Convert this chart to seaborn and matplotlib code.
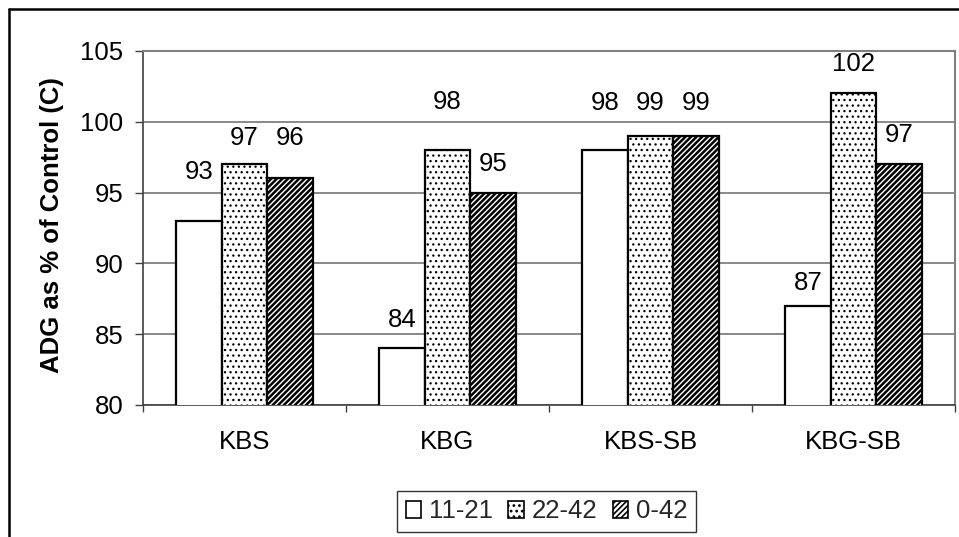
import matplotlib
matplotlib.use("Agg")
import matplotlib.pyplot as plt
from matplotlib.patches import Patch
from matplotlib.lines import Line2D
import numpy as np
import pandas as pd
import seaborn as sns

# ---- data ----
categories = ["KBS", "KBG", "KBS-SB", "KBG-SB"]
periods = ["11-21", "22-42", "0-42"]
adg_11_21 = [93, 84, 98, 87]
adg_22_42 = [97, 98, 99, 102]
adg_0_42 = [96, 95, 99, 97]
y_ticks = [80, 85, 90, 95, 100, 105]
y_label = "ADG as % of Control (C)"

# ---- layout (label offsets above bar tops, data units) ----
label_offsets = {
    "11-21": [3.45, 2.0, 3.3, 1.6],
    "22-42": [1.85, 3.4, 2.3, 2.1],
    "0-42": [2.85, 2.0, 2.3, 2.05],
}
hatches = {"11-21": "", "22-42": "...", "0-42": "//////"}
hatch_lw = {"11-21": 1.0, "22-42": 0.9, "0-42": 1.8}

series = {"11-21": adg_11_21, "22-42": adg_22_42, "0-42": adg_0_42}
df = pd.DataFrame(
    [(c, p, series[p][i]) for p in periods for i, c in enumerate(categories)],
    columns=["treatment", "period", "adg"],
)

sns.set_style("white")
plt.rcParams["font.family"] = ["Liberation Sans", "DejaVu Sans"]
plt.rcParams["hatch.linewidth"] = 1.2

FS = 18.5
W, H = 959, 537
fig = plt.figure(figsize=(W / 100, H / 100), dpi=100)
ax = fig.add_axes([143 / W, 1 - 405 / H, (955 - 143) / W, (405 - 51) / H])

sns.barplot(
    data=df, x="treatment", y="adg", hue="period",
    order=categories, hue_order=periods,
    palette=["white"] * 3, saturation=1, width=0.67,
    edgecolor="black", linewidth=1.6, legend=False, ax=ax,
)

for cont, p in zip(ax.containers, periods):
    for j, bar in enumerate(cont):
        bar.set_hatch(hatches[p])
        if hasattr(bar, "set_hatch_linewidth"):
            bar.set_hatch_linewidth(hatch_lw[p])
        bar.set_zorder(3)
        cx = bar.get_x() + bar.get_width() / 2
        v = bar.get_height()
        ax.text(cx, v + label_offsets[p][j], f"{v:.0f}", ha="center", va="center",
                fontsize=FS, color="black", zorder=5)

ax.set_ylim(80, 105)
ax.set_yticks(y_ticks)
ax.set_xlim(-0.5, len(categories) - 0.5)
ax.set_xlabel("")
ax.set_ylabel("")
ax.yaxis.grid(True, color="#808080", lw=1.3)
ax.set_axisbelow(True)

ax.tick_params(axis="y", which="major", length=6, width=1, color="#404040",
               pad=8, labelsize=FS, labelcolor="black", left=True)
ax.tick_params(axis="x", which="major", length=0, pad=18, labelsize=FS,
               labelcolor="black")
ax.set_xticks(np.arange(-0.5, len(categories), 1.0), minor=True)
ax.tick_params(axis="x", which="minor", length=5, width=1, color="#404040",
               direction="out", bottom=True)

for s in ["top", "right"]:
    ax.spines[s].set_color("#808080")
    ax.spines[s].set_linewidth(1.5)
for s in ["left", "bottom"]:
    ax.spines[s].set_color("#404040")
    ax.spines[s].set_linewidth(1.2)

fig.text(51.7 / W, 1 - 225.5 / H, y_label, rotation=90, ha="center", va="center",
         fontsize=18.5, fontweight="bold", color="black")

handles = []
for p in periods:
    h = Patch(facecolor="white", edgecolor="black", hatch=hatches[p], lw=1.2)
    if hasattr(h, "set_hatch_linewidth"):
        h.set_hatch_linewidth(hatch_lw[p])
    handles.append(h)
leg = fig.legend(handles, periods, loc="center",
                 bbox_to_anchor=(546.5 / W, 1 - 511.5 / H), ncol=3,
                 fontsize=FS, frameon=True, fancybox=False, edgecolor="black",
                 handlelength=0.6, handleheight=0.6, handletextpad=0.3,
                 columnspacing=0.6, borderpad=0.35, borderaxespad=0)
leg.get_frame().set_linewidth(1.0)

fig.add_artist(Line2D([8.5 / W, 1.0], [1 - 8.5 / H] * 2, color="black", lw=1.8,
                      transform=fig.transFigure))
fig.add_artist(Line2D([8.5 / W] * 2, [0.0, 1 - 8.5 / H], color="black", lw=1.8,
                      transform=fig.transFigure))

fig.savefig("out.png", dpi=100, facecolor="white")
